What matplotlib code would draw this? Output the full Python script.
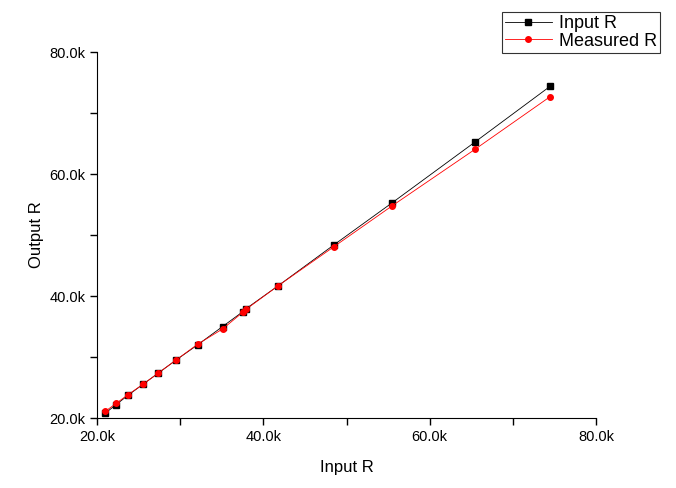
import numpy as np
import matplotlib.pyplot as plt
from matplotlib.ticker import FuncFormatter, MultipleLocator

plt.rcParams['font.family'] = ['Liberation Sans', 'DejaVu Sans']

# input resistance (k) and measured output (k)
input_r = [21.0, 22.3, 23.7, 25.5, 27.3, 29.5, 32.1, 35.1, 37.5, 37.9, 41.8, 48.5, 55.5, 65.5, 74.5]
output_input = [20.8, 22.2, 23.7, 25.5, 27.3, 29.5, 32.0, 35.0, 37.4, 37.9, 41.7, 48.4, 55.3, 65.3, 74.4]
output_measured = [21.1, 22.4, 23.8, 25.5, 27.3, 29.5, 32.1, 34.6, 37.3, 37.8, 41.7, 48.1, 54.8, 64.1, 72.7]

fig = plt.figure(figsize=(6.76, 4.88), dpi=100)
ax = fig.add_axes([0.1435, 0.1434, 0.7382, 0.75])

ax.plot(np.array(input_r) * 1000, np.array(output_input) * 1000, color='black', lw=0.6,
        marker='s', ms=4, label='Input R')
ax.plot(np.array(input_r) * 1000, np.array(output_measured) * 1000, color='red', lw=0.6,
        marker='o', ms=4, label='Measured R')

ax.set_xlim(20000, 80000)
ax.set_ylim(20000, 80000)
fmt = FuncFormatter(lambda v, p: '%.1fk' % (v / 1000))
for a in (ax.xaxis, ax.yaxis):
    a.set_major_locator(MultipleLocator(20000))
    a.set_minor_locator(MultipleLocator(10000))
    a.set_major_formatter(fmt)
ax.tick_params(which='both', direction='out', length=5, width=1, labelsize=10.5)
ax.spines['top'].set_visible(False)
ax.spines['right'].set_visible(False)

ax.set_xlabel('Input R', fontsize=12, labelpad=12)
ax.set_ylabel('Output R', fontsize=12, labelpad=4)

leg = fig.legend(loc='upper right', bbox_to_anchor=(0.976, 0.975), fontsize=13,
                 fancybox=False, edgecolor='black', handlelength=2.6,
                 borderpad=0.15, labelspacing=0.05, handletextpad=0.4, borderaxespad=0)
leg.get_frame().set_linewidth(0.8)

plt.savefig('out.png', dpi=100)
